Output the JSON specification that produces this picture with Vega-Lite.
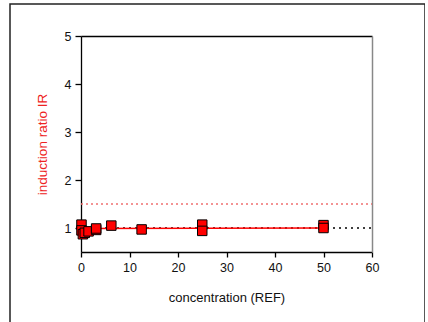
{
  "$schema": "https://vega.github.io/schema/vega-lite/v6.json",
  "width": 415,
  "height": 320,
  "autosize": "none",
  "padding": {"left": 10, "top": 4, "right": 0, "bottom": 0},
  "background": "white",
  "config": {
    "font": "Liberation Sans",
    "view": {"stroke": "#222222", "strokeWidth": 1.5},
    "axis": {"grid": false, "domainColor": "black", "tickColor": "black", "labelColor": "#111111", "labelFont": "Liberation Sans", "titleFont": "Liberation Sans", "domainWidth": 1.3, "tickWidth": 1.3, "labelFlush": false, "labelOverlap": false}
  },
  "datasets": {
    "points": [
      {"conc": 0.1, "ir": 1.07},
      {"conc": 0.1, "ir": 0.95},
      {"conc": 0.39, "ir": 0.87},
      {"conc": 0.78, "ir": 0.9},
      {"conc": 1.56, "ir": 0.93},
      {"conc": 3.125, "ir": 0.96},
      {"conc": 3.125, "ir": 0.99},
      {"conc": 6.25, "ir": 1.05},
      {"conc": 12.5, "ir": 0.97},
      {"conc": 25, "ir": 1.07},
      {"conc": 25, "ir": 0.94},
      {"conc": 50, "ir": 1.06},
      {"conc": 50, "ir": 1.0}
    ],
    "fit": [
      {"conc": 0.1, "ir": 0.99},
      {"conc": 50, "ir": 1.0}
    ],
    "one": [{}]
  },
  "layer": [
    {
      "data": {"name": "one"},
      "mark": {"type": "rule", "color": "black", "strokeDash": [2, 4], "strokeWidth": 1.6},
      "encoding": {
        "x": {"datum": 0, "type": "quantitative",
          "scale": {"domain": [0, 60], "range": [71, 362], "nice": false, "zero": false},
          "axis": {"orient": "bottom", "offset": -72, "values": [0, 10, 20, 30, 40, 50, 60], "tickSize": 5, "labelPadding": 4, "labelFontSize": 12.5, "title": "concentration (REF)", "titleFontSize": 13, "titleFontWeight": "normal", "titlePadding": 18, "titleColor": "#111111"}},
        "x2": {"datum": 60},
        "y": {"datum": 1, "type": "quantitative",
          "scale": {"domain": [0.5, 5], "range": [248, 32], "nice": false, "zero": false},
          "axis": {"orient": "left", "offset": -71, "values": [1, 2, 3, 4, 5], "tickSize": 6, "labelPadding": 4, "labelFontSize": 12.5, "title": "induction ratio IR", "titleColor": "#ee2222", "titleFontSize": 13.5, "titleFontWeight": "normal", "titlePadding": 15}}
      }
    },
    {
      "data": {"name": "one"},
      "mark": {"type": "rule", "color": "#f07070", "strokeDash": [2, 3], "strokeWidth": 1.4},
      "encoding": {
        "x": {"datum": 0, "type": "quantitative",
          "axis": {"orient": "top", "offset": -32, "labels": false, "ticks": false, "title": null, "domainColor": "black"}},
        "x2": {"datum": 60},
        "y": {"datum": 1.5, "type": "quantitative",
          "axis": {"orient": "right", "offset": -53, "labels": false, "ticks": false, "title": null, "domainColor": "#888888", "domainWidth": 1.5}}
      }
    },
    {
      "data": {"name": "fit"},
      "mark": {"type": "line", "color": "#ff0000", "strokeWidth": 1.3},
      "encoding": {
        "x": {"field": "conc", "type": "quantitative", "axis": null},
        "y": {"field": "ir", "type": "quantitative", "axis": null}
      }
    },
    {
      "data": {"name": "points"},
      "mark": {"type": "point", "shape": "square", "filled": true, "size": 90, "fill": "#ff0000", "stroke": "black", "strokeWidth": 1, "opacity": 1},
      "encoding": {
        "x": {"field": "conc", "type": "quantitative", "axis": null},
        "y": {"field": "ir", "type": "quantitative", "axis": null}
      }
    }
  ],
  "resolve": {"axis": {"x": "independent", "y": "independent"}}
}
